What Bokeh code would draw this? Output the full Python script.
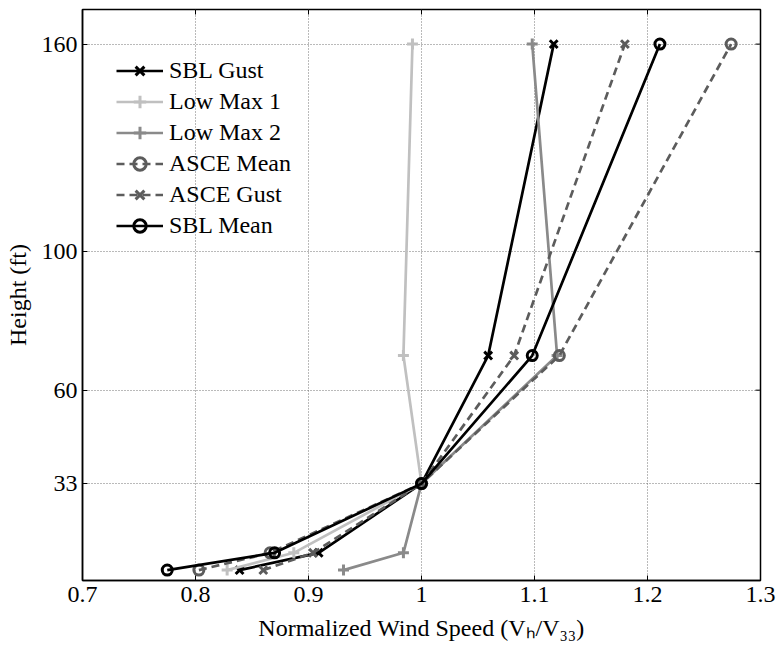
from bokeh.plotting import figure
from bokeh.models import Range1d, FixedTicker, Legend, LegendItem
from bokeh.embed import file_html
from bokeh.resources import INLINE

# ---- data ----
heights = [8, 13, 33, 70, 160]
sbl_gust = [0.839, 0.909, 1.0, 1.059, 1.117]
low_max_1 = [0.828, 0.887, 1.0, 0.984, 0.992]
low_max_2 = [0.931, 0.984, 1.0, 1.120, 1.098]
asce_mean = [0.803, 0.866, 1.0, 1.122, 1.274]
asce_gust = [0.860, 0.904, 1.0, 1.082, 1.180]
sbl_mean = [0.775, 0.870, 1.0, 1.098, 1.211]

x_ticks = [0.7, 0.8, 0.9, 1.0, 1.1, 1.2, 1.3]
x_tick_labels = ["0.7", "0.8", "0.9", "1", "1.1", "1.2", "1.3"]
y_ticks = [33, 60, 100, 160]
y_tick_labels = ["33", "60", "100", "160"]
x_lim = (0.7, 1.3)
y_lim = (5, 170)

FONT = "Liberation Serif"
FS = "24px"

W, H = 779, 654
ML, MR, MT, MB = 82, 19, 9, 74

p = figure(width=W, height=H, output_backend="svg", toolbar_location=None,
           x_range=Range1d(*x_lim), y_range=Range1d(*y_lim),
           min_border_left=ML, min_border_right=MR, min_border_top=MT, min_border_bottom=MB)
p.background_fill_color = "white"
p.border_fill_color = "white"
p.outline_line_color = "black"
p.outline_line_width = 1.5

# axes
p.xaxis.ticker = FixedTicker(ticks=x_ticks)
p.xaxis.major_label_overrides = {t: l for t, l in zip(x_ticks, x_tick_labels)}
p.yaxis.ticker = FixedTicker(ticks=y_ticks)
p.yaxis.major_label_overrides = {t: l for t, l in zip(y_ticks, y_tick_labels)}
for ax in (p.xaxis, p.yaxis):
    ax.major_label_text_font = FONT
    ax.major_label_text_font_size = FS
    ax.major_label_text_color = "black"
    ax.major_tick_in = 5
    ax.major_tick_out = 0
    ax.minor_tick_in = 0
    ax.minor_tick_out = 0
    ax.axis_line_color = "black"
    ax.axis_line_width = 1.5
    ax.major_tick_line_color = "black"
    ax.axis_label_text_font = FONT
    ax.axis_label_text_font_size = FS
    ax.axis_label_text_font_style = "normal"
    ax.axis_label_text_color = "black"
p.xaxis.major_label_standoff = 6
p.xaxis.axis_label = "Normalized Wind Speed (V\u2095/V\u2083\u2083)"
p.xaxis.axis_label_standoff = 10
p.yaxis.major_label_standoff = 5
p.yaxis.axis_label = "Height (ft)"
p.yaxis.axis_label_standoff = 8

# small inward ticks on top and right edges of the box
fw = W - ML - MR
fh = H - MT - MB
dy = (y_lim[1] - y_lim[0]) / fh * 5
dx = (x_lim[1] - x_lim[0]) / fw * 5
p.segment(x0=x_ticks, y0=[y_lim[1]] * len(x_ticks), x1=x_ticks,
          y1=[y_lim[1] - dy] * len(x_ticks), line_color="black", line_width=1)
p.segment(x0=[x_lim[1]] * len(y_ticks), y0=y_ticks, x1=[x_lim[1] - dx] * len(y_ticks),
          y1=y_ticks, line_color="black", line_width=1)

# grid
for g in (p.xgrid, p.ygrid):
    g.grid_line_color = "#666666"
    g.grid_line_dash = "1 2"
    g.grid_line_width = 1
    g.grid_line_alpha = 0.9

BLACK = "black"
LIGHT = "#c0c0c0"
MID = "#8a8a8a"
DARK = "#5c5c5c"
LW = 2.7

series = [
    ("SBL Gust", sbl_gust, BLACK, "solid", "x", 11),
    ("Low Max 1", low_max_1, LIGHT, "solid", "cross", 11),
    ("Low Max 2", low_max_2, MID, "solid", "cross", 11),
    ("ASCE Mean", asce_mean, DARK, "8 5", "circle", 10),
    ("ASCE Gust", asce_gust, DARK, "8 5", "x", 11),
    ("SBL Mean", sbl_mean, BLACK, "solid", "circle", 10),
]

items = []
for name, xs, col, dash, mk, sz in series:
    r1 = p.line(xs, heights, line_color=col, line_width=LW, line_dash=dash)
    r2 = p.scatter(xs, heights, marker=mk, size=sz, line_color=col, line_width=3,
                   fill_color=None)
    items.append(LegendItem(label=name, renderers=[r1, r2]))

legend = Legend(items=items, location=(34, 339), orientation="vertical",
                label_text_font=FONT, label_text_font_size=FS, label_text_color="black",
                glyph_width=47, glyph_height=31, label_height=31, label_standoff=6,
                spacing=0, padding=0, margin=0, border_line_color=None,
                background_fill_alpha=0)
p.add_layout(legend, "center")

open("out.html", "w").write(file_html(p, INLINE))
